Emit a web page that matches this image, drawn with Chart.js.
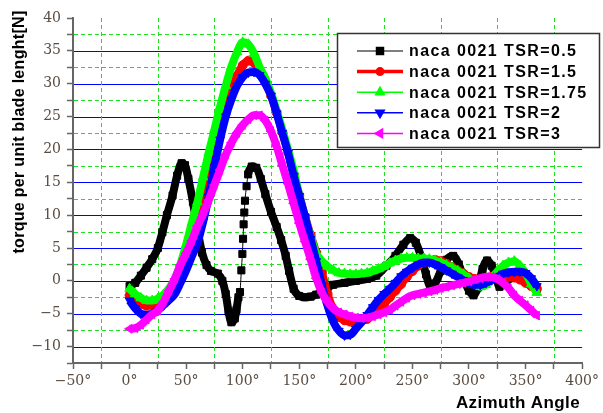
<!DOCTYPE html>
<html>
<head>
<meta charset="utf-8">
<script src="https://cdn.jsdelivr.net/npm/chart.js@4.4.0/dist/chart.umd.min.js"></script>
<style>
  html, body { margin: 0; padding: 0; background: #fff; }
</style>
</head>
<body>
<canvas id="torque" width="603" height="413"></canvas>
<script>
// azimuth angles (deg) shared by the TSR 1.5 / 1.75 / 2 / 3 curves
const angles = [
  0, 5, 10, 15, 20, 25, 30, 35, 40, 45,
  50, 55, 60, 65, 70, 75, 80, 85, 90, 95,
  100, 105, 110, 115, 120, 125, 130, 135, 140, 145,
  150, 155, 160, 165, 170, 175, 180, 185, 190, 195,
  200, 205, 210, 215, 220, 225, 230, 235, 240, 245,
  250, 255, 260, 265, 270, 275, 280, 285, 290, 295,
  300, 305, 310, 315, 320, 325, 330, 335, 340, 345,
  350, 355, 360
];
const tsr15 = [
  -2.2, -3.0, -3.5, -3.8, -3.7, -3.3, -2.6, -1.7, -0.6, 1.2,
  3.5, 6.4, 9.6, 12.8, 16.2, 19.3, 22.3, 25.8, 28.8, 31.2,
  32.8, 33.5, 33.2, 31.8, 30.2, 28.2, 25.6, 22.6, 19.6, 16.2,
  13.0, 9.8, 7.0, 4.3, 1.3, -2.0, -4.3, -5.5, -6.0, -6.2,
  -6.2, -6.1, -5.8, -5.2, -4.5, -3.5, -2.5, -1.5, -0.5, 0.6,
  1.5, 2.3, 2.8, 3.1, 3.2, 3.0, 2.6, 2.1, 1.6, 1.1,
  0.6, 0.3, 0.2, 0.4, 0.6, 0.7, 0.7, 0.6, 0.5, 0.2,
  -0.3, -0.8, -1.2
];
const tsr175 = [
  -1.2, -2.0, -2.6, -3.0, -3.0, -2.7, -2.1, -1.1, 0.3, 2.6,
  5.5, 8.8, 12.0, 15.8, 19.5, 23.0, 26.5, 29.7, 32.6, 34.8,
  36.3, 36.0, 34.6, 32.5, 30.8, 28.6, 25.9, 23.0, 20.0, 16.8,
  13.0, 9.6, 6.8, 4.2, 3.0, 2.2, 1.6, 1.2, 1.1, 1.0,
  1.0, 1.1, 1.2, 1.5, 1.8, 2.2, 2.7, 3.1, 3.4, 3.5,
  3.5, 3.4, 3.4, 3.3, 3.1, 2.8, 2.4, 2.0, 1.5, 1.0,
  0.4, -0.3, -0.9, -0.6, 0.4, 1.4, 2.3, 2.8, 3.0, 2.3,
  1.2, -0.5, -1.8
];
const tsr2 = [
  -3.0, -4.2, -5.0, -5.2, -5.0, -4.5, -3.7, -2.9, -2.0, -0.3,
  1.6, 3.7, 5.8, 9.0, 12.8, 17.3, 21.5, 25.0, 27.6, 29.7,
  31.0, 31.7, 31.8, 31.3, 30.0, 28.2, 25.5, 22.5, 19.5, 16.0,
  12.9, 9.8, 6.4, 3.0, -0.7, -3.8, -6.2, -7.6, -8.3, -8.2,
  -7.3, -6.3, -5.2, -4.0, -2.9, -2.0, -1.2, -0.3, 0.7, 1.4,
  2.0, 2.5, 2.8, 2.8, 2.5, 2.1, 1.6, 1.1, 0.6, 0.1,
  -0.3, -0.6, -0.6, -0.3, 0.1, 0.6, 1.1, 1.3, 1.4, 1.4,
  1.2, 0.4, -0.8
];
const tsr3 = [
  -7.3, -7.2, -6.7, -5.9, -5.1, -4.5, -3.2, -1.5, 0.3, 2.4,
  4.2, 6.1, 8.3, 10.2, 12.3, 14.6, 16.9, 19.2, 21.0, 22.5,
  23.7, 24.6, 25.2, 25.2, 24.4, 22.8, 20.5, 17.6, 14.8, 11.8,
  8.8, 6.0, 3.3, 0.4, -1.8, -3.2, -4.2, -4.8, -5.1, -5.4,
  -5.6, -5.7, -5.6, -5.4, -5.1, -4.8, -4.4, -3.8, -3.2, -2.6,
  -2.2, -2.0, -1.8, -1.6, -1.4, -1.1, -0.9, -0.7, -0.5, -0.3,
  -0.1, 0.2, 0.4, 0.6, 0.6, 0.3, -0.3, -1.1, -2.2, -3.0,
  -3.7, -4.5, -5.3
];
// TSR 0.5 has its own angles (steep jump near 100 deg)
const tsr05Angles = [
  0, 5, 10, 15, 20, 25, 29, 33, 38, 42,
  46, 49, 52, 56, 60, 64, 68, 72, 78, 82,
  85, 87.5, 90, 93, 94.5, 96.2, 97.6, 98.8, 99.7, 100.3,
  100.8, 101.4, 102, 103.4, 104.8, 108, 112, 116, 120, 125,
  130, 134, 138, 141, 145, 150, 155, 160, 165, 170,
  175, 180, 190, 200, 210, 218, 227, 235, 242, 248,
  253, 258, 262, 266, 270, 275, 280, 286, 291, 296,
  300, 304, 308, 312, 316, 320, 324, 327, 332, 338,
  345, 352, 357, 360
];
const tsr05 = [
  -0.8, -0.3, 0.8, 2.0, 3.3, 5.0, 7.4, 10.0, 13.0, 16.0,
  17.9, 17.6, 15.5, 12.0, 7.8, 4.3, 2.4, 1.5, 1.1, 0.0,
  -2.0, -4.7, -6.3, -5.7, -4.4, -2.5, -1.7, 1.6, 4.1, 6.4,
  8.6, 10.4, 12.2, 14.4, 16.2, 17.4, 17.2, 15.5, 13.2, 10.5,
  8.2, 6.2, 3.8, 1.5, -1.2, -2.3, -2.5, -2.4, -2.1, -1.6,
  -1.0, -0.6, -0.3, 0.0, 0.3, 0.8, 2.3, 3.8, 5.5, 6.5,
  5.8, 3.5, 1.0, -0.9, -0.4, 1.5, 3.2, 3.8, 2.5, 0.0,
  -1.5, -2.2, -1.0, 1.8, 3.1, 2.3, 0.5, -0.9, -0.2, 0.5,
  1.2, 0.3, -0.7, -1.2
];
const seriesNames = [
  'naca 0021 TSR=0.5', 'naca 0021 TSR=1.5', 'naca 0021 TSR=1.75',
  'naca 0021 TSR=2', 'naca 0021 TSR=3'
];
const xLabelValues = [-50, 0, 50, 100, 150, 200, 250, 300, 350, 400];
const yLabelValues = [-10, -5, 0, 5, 10, 15, 20, 25, 30, 35, 40];
const xTitle = 'Azimuth Angle';
const yTitle = 'torque per unit blade lenght[N]';

const pairs = (xs, ys) => xs.map((a, i) => ({ x: a, y: ys[i] }));
const signed = v => (v < 0 ? '\u2212' + (-v) : String(v));

function series(label, xs, ys, color, style, rotation, radius, legendLine, order) {
  return {
    label, data: pairs(xs, ys), showLine: true,
    borderColor: color, backgroundColor: color,
    pointBackgroundColor: color, pointBorderColor: color,
    pointStyle: style, pointRotation: rotation, pointRadius: radius,
    pointBorderWidth: 1, borderWidth: 8,
    cubicInterpolationMode: 'monotone', order,
    legendLine, legendRotation: rotation
  };
}

const datasets = [
  series(seriesNames[0], tsr05Angles, tsr05, '#000000', 'rect', 0, 5, 1.2, 5),
  series(seriesNames[1], angles, tsr15, '#ff0000', 'circle', 0, 4.5, 3.5, 4),
  series(seriesNames[2], angles, tsr175, '#00ff00', 'triangle', 0, 5.5, 1.5, 3),
  series(seriesNames[3], angles, tsr2, '#0000ff', 'triangle', 180, 5, 1.5, 2),
  series(seriesNames[4], angles, tsr3, '#ff00ff', 'triangle', 270, 5, 1.5, 1)
];
// thin connector where the TSR 0.5 curve jumps between widely spaced samples
datasets[0].segment = {
  borderWidth: c => (c.p1.parsed.x - c.p0.parsed.x < 1.5 ? 1 : 8)
};

const decor = {
  id: 'decor',
  beforeDatasetsDraw(chart) {
    const { ctx, chartArea: a, scales: { x, y } } = chart;
    ctx.save();
    ctx.lineWidth = 1;
    y.ticks.forEach(t => {
      if (t.value <= y.min || t.value >= y.max) return;
      const py = Math.round(y.getPixelForValue(t.value)) + 0.5;
      const major = t.value % 5 === 0;
      ctx.strokeStyle = major ? '#0000ff' : '#22e022';
      ctx.setLineDash(major ? [] : [4, 3]);
      ctx.beginPath(); ctx.moveTo(a.left + 1, py); ctx.lineTo(a.right, py); ctx.stroke();
    });
    x.ticks.forEach(t => {
      if (t.value % 50 === 0) return;
      const px = Math.round(x.getPixelForValue(t.value)) + 0.5;
      ctx.strokeStyle = '#22e022';
      ctx.setLineDash([4, 3]);
      ctx.beginPath(); ctx.moveTo(px, a.top); ctx.lineTo(px, a.bottom - 1); ctx.stroke();
    });
    ctx.restore();
  },
  afterDraw(chart) {
    const ctx = chart.ctx;
    // legend box
    ctx.save();
    ctx.fillStyle = '#fff';
    ctx.fillRect(337, 33, 263, 115);
    ctx.strokeStyle = '#333';
    ctx.lineWidth = 1.5;
    ctx.strokeRect(337.5, 33.5, 262, 114);
    chart.data.datasets.forEach((ds, i) => {
      const cy = 51 + i * 20.6;
      ctx.strokeStyle = ds.borderColor;
      ctx.lineWidth = ds.legendLine;
      ctx.beginPath(); ctx.moveTo(357, cy); ctx.lineTo(403, cy); ctx.stroke();
      ctx.fillStyle = ds.borderColor;
      const r = ds.pointStyle === 'triangle' ? 6.5 : (ds.pointStyle === 'rect' ? 6 : 4.5);
      Chart.helpers.drawPoint(ctx, {
        pointStyle: ds.pointStyle, rotation: ds.legendRotation, radius: r, borderWidth: 0
      }, 380, cy);
      ctx.fillStyle = '#000';
      ctx.font = 'bold 16px "Liberation Sans", Arial, sans-serif';
      ctx.letterSpacing = '1.4px';
      ctx.textAlign = 'left';
      ctx.textBaseline = 'middle';
      ctx.fillText(ds.label, 409, cy + 1);
      ctx.letterSpacing = '0px';
    });
    ctx.restore();

    // axis titles
    ctx.save();
    ctx.fillStyle = '#000';
    ctx.font = 'bold 16px "Liberation Sans", Arial, sans-serif';
    ctx.letterSpacing = '0.3px';
    ctx.textAlign = 'center';
    ctx.textBaseline = 'middle';
    ctx.translate(20, 132);
    ctx.rotate(-Math.PI / 2);
    ctx.fillText(yTitle, 0, 0);
    ctx.restore();

    ctx.save();
    ctx.fillStyle = '#000';
    ctx.font = 'bold 17px "Liberation Sans", Arial, sans-serif';
    ctx.letterSpacing = '0.4px';
    ctx.textAlign = 'center';
    ctx.textBaseline = 'middle';
    ctx.fillText(xTitle, 518, 403);
    ctx.restore();
  }
};

const tickFont = { family: '"DejaVu Serif", serif', size: 14 };

new Chart(document.getElementById('torque'), {
  type: 'scatter',
  data: { datasets },
  options: {
    responsive: false,
    animation: false,
    layout: { padding: { top: 18, right: 14, left: 0, bottom: 0 } },
    plugins: { legend: { display: false }, tooltip: { enabled: false } },
    scales: {
      x: {
        type: 'linear', min: -50, max: 400,
        ticks: {
          stepSize: 25, autoSkip: false, maxRotation: 0, minRotation: 0,
          padding: 4, color: '#5a4c40', font: tickFont,
          callback: v => (xLabelValues.includes(v) ? signed(v) + '\u00b0' : '')
        },
        grid: { drawOnChartArea: false, drawTicks: true, tickLength: 6, color: '#666', tickWidth: 1.5 },
        border: { color: '#666', width: 2 },
        afterFit: s => { s.height = 50; }
      },
      y: {
        type: 'linear', min: -12.5, max: 40,
        ticks: {
          stepSize: 2.5, autoSkip: false, padding: 6, color: '#5a4c40', font: tickFont,
          callback: v => (yLabelValues.includes(v) ? signed(v) : '')
        },
        grid: { drawOnChartArea: false, drawTicks: true, tickLength: 6, color: '#666', tickWidth: 1.5 },
        border: { color: '#666', width: 2 },
        afterFit: s => { s.width = 73; }
      }
    }
  },
  plugins: [decor]
});
</script>
</body>
</html>
